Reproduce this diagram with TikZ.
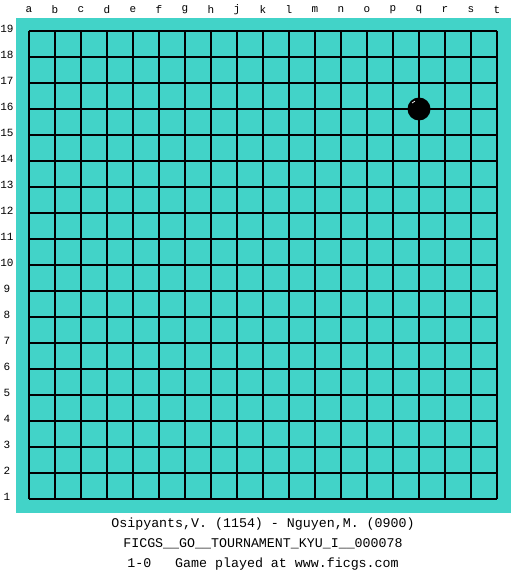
\documentclass[tikz,border=0pt]{standalone}
\usepackage{fontspec}
\setmonofont{Liberation Mono}
\definecolor{boardcol}{RGB}{66,211,200}
\tikzset{
  coordlabel/.style={font=\ttfamily\fontsize{11}{13}\selectfont, inner sep=0pt},
  infoline/.style={font=\ttfamily\fontsize{13.3}{15}\selectfont, inner sep=0pt}
}
\begin{document}
\begin{tikzpicture}[x=1pt,y=-1pt]
  \useasboundingbox[fill=white] (0,0) rectangle (525,575);
  % board
  \fill[boardcol] (16,18) rectangle (511,513);
  \foreach \k in {0,...,18} {
    \draw[line width=1.1pt] (29+26*\k,31) -- (29+26*\k,499);
    \draw[line width=1.1pt] (29,31+26*\k) -- (497,31+26*\k);
  }
  % column letters
  \foreach \c [count=\i from 0] in {a,b,c,d,e,f,g,h,j,k,l,m,n,o,p,q,r,s,t}
    \node[coordlabel] (col\c) at (29+26*\i,10) {\c};
  % row numbers
  \foreach \r in {1,...,19}
    \node[coordlabel] (row\r) at (7,31+26*19-26*\r-2) {\r};
  % stone at q16
  \fill[black] (419,109) circle (11.5);
  \draw[white,line width=0.7pt] (412,103) arc (225:250:8);
  % game info
  \node[infoline] (players) at (263,524) {Osipyants,V. (1154) - Nguyen,M. (0900)};
  \node[infoline] (event) at (263,544) {FICGS\_\_GO\_\_TOURNAMENT\_KYU\_I\_\_000078};
  \node[infoline] (result) at (263,564) {1-0\ \ \ Game played at www.ficgs.com};
\end{tikzpicture}
\end{document}
